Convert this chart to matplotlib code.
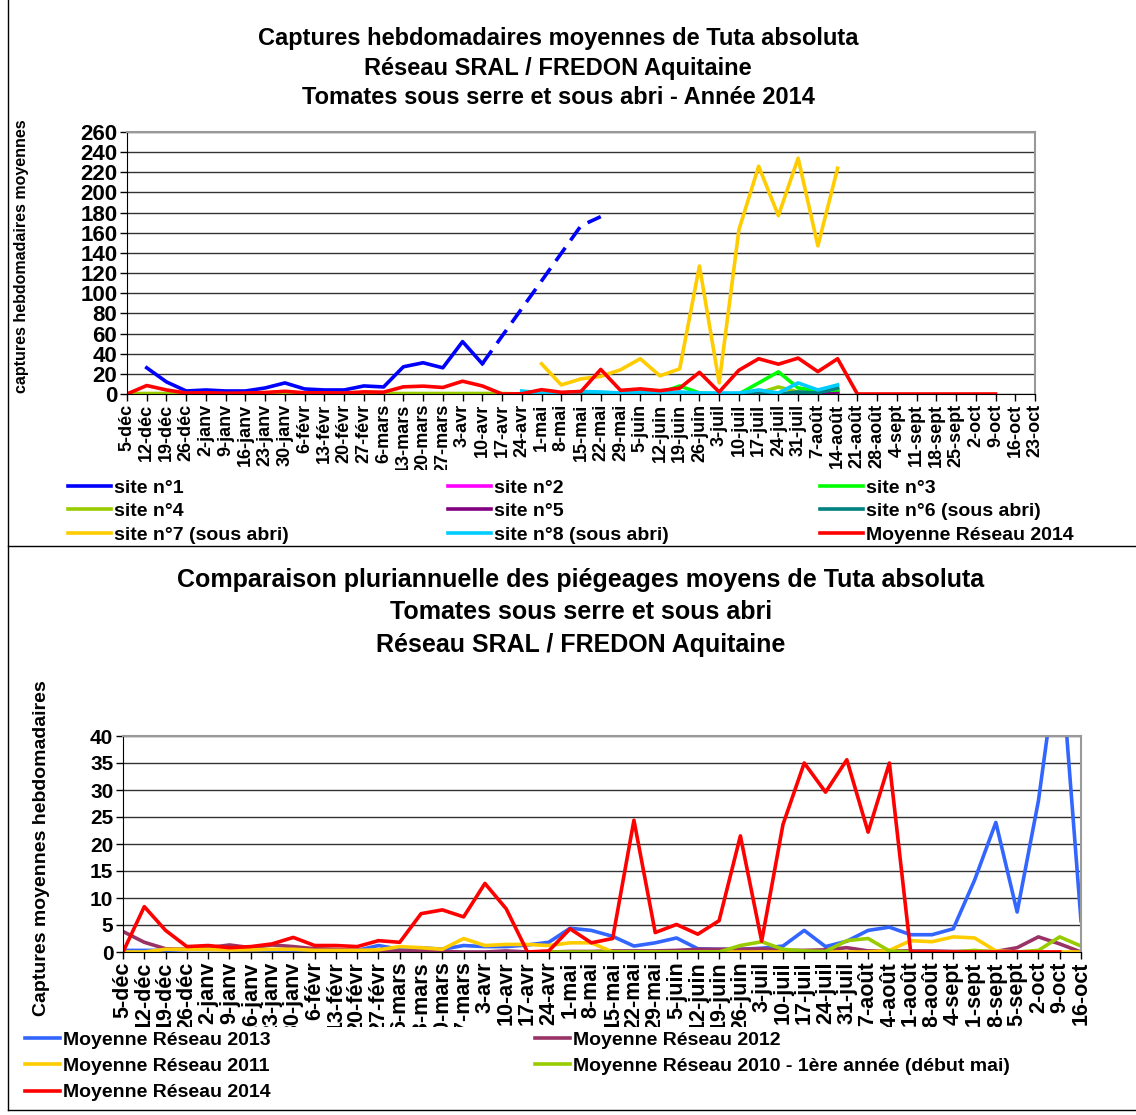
import matplotlib
matplotlib.use('Agg')
import matplotlib.pyplot as plt
import numpy as np
from matplotlib.lines import Line2D
from matplotlib.transforms import Bbox, TransformedBbox

plt.rcParams['font.family'] = ['Liberation Sans', 'DejaVu Sans']
plt.rcParams['font.weight'] = 'bold'

nan = np.nan

# semaines (axe des x)
weeks = ['5-déc', '12-déc', '19-déc', '26-déc', '2-janv', '9-janv', '16-janv', '23-janv',
         '30-janv', '6-févr', '13-févr', '20-févr', '27-févr', '6-mars', '13-mars', '20-mars',
         '27-mars', '3-avr', '10-avr', '17-avr', '24-avr', '1-mai', '8-mai', '15-mai',
         '22-mai', '29-mai', '5-juin', '12-juin', '19-juin', '26-juin', '3-juil', '10-juil',
         '17-juil', '24-juil', '31-juil', '7-août', '14-août', '21-août', '28-août', '4-sept',
         '11-sept', '18-sept', '25-sept', '2-oct', '9-oct', '16-oct', '23-oct']
weeks_multi = weeks[:46]

# ---- graphique 2014 par site ----
site1 = [nan, 26, 12, 3, 4, 3, 3, 6, 11, 5, 4, 4, 8, 7, 27, 31, 26, 52, 30] + [nan] * 28
site1_dash = [nan] * 18 + [30, nan, nan, nan, nan, 167, 176] + [nan] * 22
site2 = [nan] * 20 + [0] * 17 + [nan] * 10
site3 = [nan] * 20 + [0, 0, 0, 0, 0, 0, 0, 1, 8, 1, 0, 0, 11, 22, 6, 3, 4] + [nan] * 10
site4 = [0.5] * 20 + [0, 0, 0, 0, 0, 0, 0, 0, 0, 0, 0, 0, 1, 7, 2, 1, 3] + [nan] * 10
site5 = [nan] * 20 + [0] * 16 + [2] + [nan] * 10
site6 = [nan] * 20 + [0] * 14 + [2, 1, 6] + [nan] * 10
site7 = [nan] * 21 + [30, 9, 15, 17.5, 24, 35, 18, 25, 127, 11, 163, 226, 177, 234, 147, 224] + [nan] * 10
site8 = [nan] * 20 + [3, 1, 1, 2.5, 2, 1, 2, 1, 2, 1, 1, 1, 4, 1, 11, 4, 9] + [nan] * 10

# ---- moyennes réseau ----
moy2014 = [0, 8.4, 4, 1, 1.2, 0.8, 1, 1.5, 2.7, 1.2, 1.2, 1, 2.1, 1.8, 7.1, 7.8, 6.5, 12.7,
           8, 0, 0.2, 4.3, 1.7, 2.5, 24.4, 3.6, 5.1, 3.3, 5.8, 21.5, 2, 23.6, 35, 29.6, 35.6,
           22.2, 35, 0, 0, 0, 0, 0, 0, 0, 0]
moy2013 = [0.3, 0.3, 0.3, 0.5, 0.5, 0.5, 0.3, 0.3, 0.3, 0.3, 0.3, 0.3, 1.2, 0.5, 0.8, 0.5,
           1.2, 1.0, 1.0, 1.3, 1.8, 4.4, 4.0, 2.9, 1.1, 1.7, 2.6, 0.6, 0.5, 0.5, 0.7, 1.1,
           4.0, 1.0, 2.0, 4.0, 4.6, 3.2, 3.2, 4.3, 13.3, 24, 7.4, 28, 57, 5.8]
moy2012 = [3.8, 1.8, 0.6, 0.5, 0.8, 1.3, 0.8, 1.3, 1.0, 0.6, 0.5, 0.3, 0, 0.2, 0.2, 0.1,
           0, 0, 0.2, 0, 0, 0.1, 0.1, 0.2, 0.2, 0.2, 0.3, 0.5, 0.5, 0.5, 0.6, 0.3, 0.3, 0.4,
           0.8, 0.2, 0.2, 0.2, 0.2, 0.1, 0.1, 0.1, 0.8, 2.8, 1.5, 0]
moy2011 = [0, 0, 0.5, 0.5, 0.5, 0.4, 0.4, 0.5, 0.5, 0.3, 0.3, 0.3, 0.4, 1.0, 0.8, 0.5, 2.5,
           1.2, 1.4, 1.4, 1.2, 1.7, 1.7, 0, 0, 0, 0, 0, 0, 0, 0, 0, 0, 0, 0, 0, 0.3, 2.1, 1.9,
           2.8, 2.6, 0.2, 0, 0, 0, 0]
moy2010 = [nan] * 20 + [0, 0, 0, 0, 0, 0, 0, 0, 0, 1.2, 1.9, 0.5, 0.2, 0.1, 2.1, 2.5, 0.2,
                        0, 0, 0, 0.3, 0, 0, 0.3, 2.8, 1.1]

W, H = 1136, 1115
fig = plt.figure(figsize=(W / 100, H / 100), dpi=100)


def fx(px):
    return px / W


def fy(py):
    return 1 - py / H


def style_axes(ax, labels, lblsize, clip_py):
    ax.set_xticks(np.arange(len(labels)))
    ax.set_xticklabels(labels, rotation=90, fontsize=lblsize, fontweight='bold')
    ax.grid(axis='y', color='#333333', linewidth=1.0)
    ax.set_axisbelow(True)
    for s in ['top', 'right']:
        ax.spines[s].set_color('#999999')
        ax.spines[s].set_linewidth(1.5)
    for s in ['left', 'bottom']:
        ax.spines[s].set_color('black')
    ax.tick_params(axis='both', direction='out', length=5, width=1, pad=2)
    clip = TransformedBbox(Bbox.from_extents(0, fy(clip_py), 1, 1), fig.transFigure)
    for lbl in ax.get_xticklabels():
        lbl.set_clip_box(clip)
        lbl.set_clip_on(True)


# ================= graphique du haut =================
ax1 = fig.add_axes([fx(127), fy(394), fx(1035 - 127), (394 - 132) / H])
x1 = np.arange(len(weeks))
lw = 2.6
h = {}
h['s2'], = ax1.plot(x1, site2, color='#ff00ff', lw=lw)
h['s4'], = ax1.plot(x1, site4, color='#99cc00', lw=lw)
h['s5'], = ax1.plot(x1, site5, color='#800080', lw=lw)
h['s3'], = ax1.plot(x1, site3, color='#00ff00', lw=lw)
h['s6'], = ax1.plot(x1, site6, color='#008080', lw=lw)
h['s8'], = ax1.plot(x1, site8, color='#00ccff', lw=lw)
h['s7'], = ax1.plot(x1, site7, color='#ffcc00', lw=lw)
h['s1'], = ax1.plot(x1, site1, color='#0000ff', lw=lw)
d = np.array(site1_dash)
m = ~np.isnan(d)
ax1.plot(x1[m], d[m], color='#0000ff', lw=lw, linestyle=(0, (4.5, 2.5)))
h['moy'], = ax1.plot(x1, moy2014 + [nan, nan], color='#ff0000', lw=lw)
ax1.set_xlim(0, 46)
ax1.set_ylim(0, 260)
ax1.set_yticks(np.arange(0, 261, 20))
ax1.tick_params(axis='y', labelsize=16)
for t in ax1.get_yticklabels():
    t.set_fontweight('bold')
style_axes(ax1, weeks, 13, 470)

for txt, py in [('Captures hebdomadaires moyennes de Tuta absoluta', 39),
                ('Réseau SRAL / FREDON Aquitaine', 68),
                ('Tomates sous serre et sous abri - Année 2014', 98)]:
    fig.text(fx(558), fy(py), txt, ha='center', va='center', fontsize=17, fontweight='bold')
fig.text(fx(22), fy(256), 'captures hebdomadaires moyennes', rotation=90,
         ha='center', va='center', fontsize=11.5, fontweight='bold')

cols_top = [
    ([h['s1'], h['s4'], h['s7']], ['site n°1', 'site n°4', 'site n°7 (sous abri)'], 68),
    ([h['s2'], h['s5'], h['s8']], ['site n°2', 'site n°5', 'site n°8 (sous abri)'], 448),
    ([h['s3'], h['s6'], h['moy']], ['site n°3', 'site n°6 (sous abri)', 'Moyenne Réseau 2014'], 820),
]
for hs, ls, px in cols_top:
    fig.legend(hs, ls, loc='upper left', bbox_to_anchor=(fx(px), fy(479)),
               bbox_transform=fig.transFigure, frameon=False, borderaxespad=0,
               borderpad=0, handlelength=2.2, handletextpad=0.15, labelspacing=0.3,
               prop={'weight': 'bold', 'size': 14})

# ================= graphique du bas =================
ax2 = fig.add_axes([fx(123), fy(952), fx(1081 - 123), (952 - 736) / H])
x2 = np.arange(len(weeks_multi))
g = {}
g['13'], = ax2.plot(x2, moy2013, color='#3366ff', lw=lw)
g['12'], = ax2.plot(x2, moy2012, color='#993366', lw=lw)
g['11'], = ax2.plot(x2, moy2011, color='#ffcc00', lw=lw)
g['10'], = ax2.plot(x2, moy2010, color='#99cc00', lw=lw)
g['14'], = ax2.plot(x2, moy2014 + [nan], color='#ff0000', lw=lw)
ax2.set_xlim(0, 45)
ax2.set_ylim(0, 40)
ax2.set_yticks(np.arange(0, 41, 5))
ax2.tick_params(axis='y', labelsize=15)
for t in ax2.get_yticklabels():
    t.set_fontweight('bold')
style_axes(ax2, weeks_multi, 15.5, 1027)

for txt, py in [('Comparaison pluriannuelle des piégeages moyens de Tuta absoluta', 580),
                ('Tomates sous serre et sous abri', 612),
                ('Réseau SRAL / FREDON Aquitaine', 645)]:
    fig.text(fx(581), fy(py), txt, ha='center', va='center', fontsize=18, fontweight='bold')
fig.text(fx(42), fy(848), 'Captures moyennes hebdomadaires', rotation=90,
         ha='center', va='center', fontsize=14, fontweight='bold')

leg_font = {'weight': 'bold', 'size': 14}
fig.legend([g['13'], g['11'], g['14']],
           ['Moyenne Réseau 2013', 'Moyenne Réseau 2011', 'Moyenne Réseau 2014'],
           loc='upper left', bbox_to_anchor=(fx(25), fy(1031)), bbox_transform=fig.transFigure,
           frameon=False, borderaxespad=0, borderpad=0, handlelength=1.8,
           handletextpad=0.15, labelspacing=0.45, prop=leg_font)
fig.legend([g['12'], g['10']],
           ['Moyenne Réseau 2012', 'Moyenne Réseau 2010 - 1ère année (début mai)'],
           loc='upper left', bbox_to_anchor=(fx(535), fy(1031)), bbox_transform=fig.transFigure,
           frameon=False, borderaxespad=0, borderpad=0, handlelength=1.8,
           handletextpad=0.15, labelspacing=0.45, prop=leg_font)

# cadres
fig.add_artist(Line2D([fx(8), fx(8)], [fy(0), fy(1110)], color='black', lw=1))
fig.add_artist(Line2D([fx(8), fx(1136)], [fy(546), fy(546)], color='black', lw=1))
fig.add_artist(Line2D([fx(8), fx(1136)], [fy(1110), fy(1110)], color='black', lw=1))

plt.savefig('out.png', dpi=100)
